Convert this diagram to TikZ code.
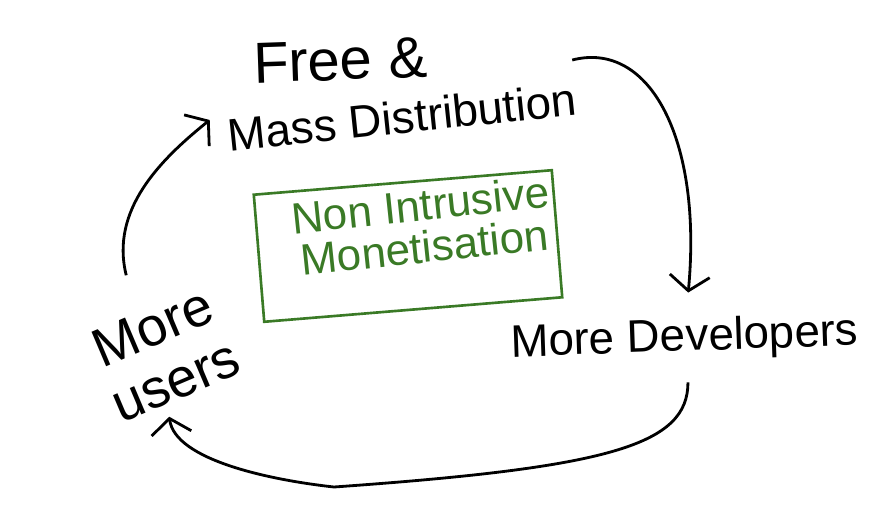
\documentclass[tikz,border=0pt]{standalone}
\usepackage{fontspec}
\setmainfont{Liberation Sans}
\usetikzlibrary{arrows.meta, positioning}
\definecolor{penGreen}{RGB}{58,122,38}

\begin{document}
\begin{tikzpicture}[
    hand/.style={text=black, inner sep=2pt},
    bigtext/.style={font=\fontsize{26}{28}\selectfont},
    greenbox/.style={rectangle, draw=penGreen, line width=1.5pt, minimum width=5.98cm, minimum height=2.55cm, rotate=4.7},
    greentext/.style={text=penGreen, align=center, inner sep=2pt, font=\fontsize{25}{24}\selectfont, rotate=6},
    arr/.style={line width=1.6pt, -{Straight Barb[length=3mm,width=8mm]}}
]
\useasboundingbox (0,0) rectangle (17.38,10.10);
\node[hand, font=\fontsize{33}{36}\selectfont, anchor=base, rotate=2] (free) at (6.82,8.50) {Free \&};
\node[hand, bigtext, anchor=base, rotate=6] (mass) at (8.08,7.44) {Mass Distribution};
\node[greenbox] (monbox) at (8.16,5.18) {};
\node[greentext] (montext) at (8.45,5.58) {Non Intrusive\\Monetisation};
\node[hand, align=center, font=\fontsize{31}{33}\selectfont, rotate=23] (users) at (3.28,3.02) {More\\users};
\node[hand, bigtext, anchor=base, rotate=2] (devs) at (13.70,3.08) {More Developers};
\coordinate (loopbot) at (6.68,0.36);
\draw[arr] ([shift={(-0.35,0.62)}]users.north) .. controls (2.2,5.9) and (3.2,6.9) .. ([shift={(-0.29,0.31)}]mass.west);
\draw[arr] ([shift={(-0.12,0.35)}]mass.north east) .. controls (13.0,9.3) and (14.05,7.3) .. ([shift={(0.09,0.43)}]devs.north);
\draw[arr] ([shift={(0.05,-0.36)}]devs.south) .. controls (13.76,1.2) and (12.2,0.75) .. (loopbot)
    .. controls (5.4,0.5) and (3.5,0.9) .. ([shift={(-0.3,-0.3)}]users.south);
\end{tikzpicture}
\end{document}
